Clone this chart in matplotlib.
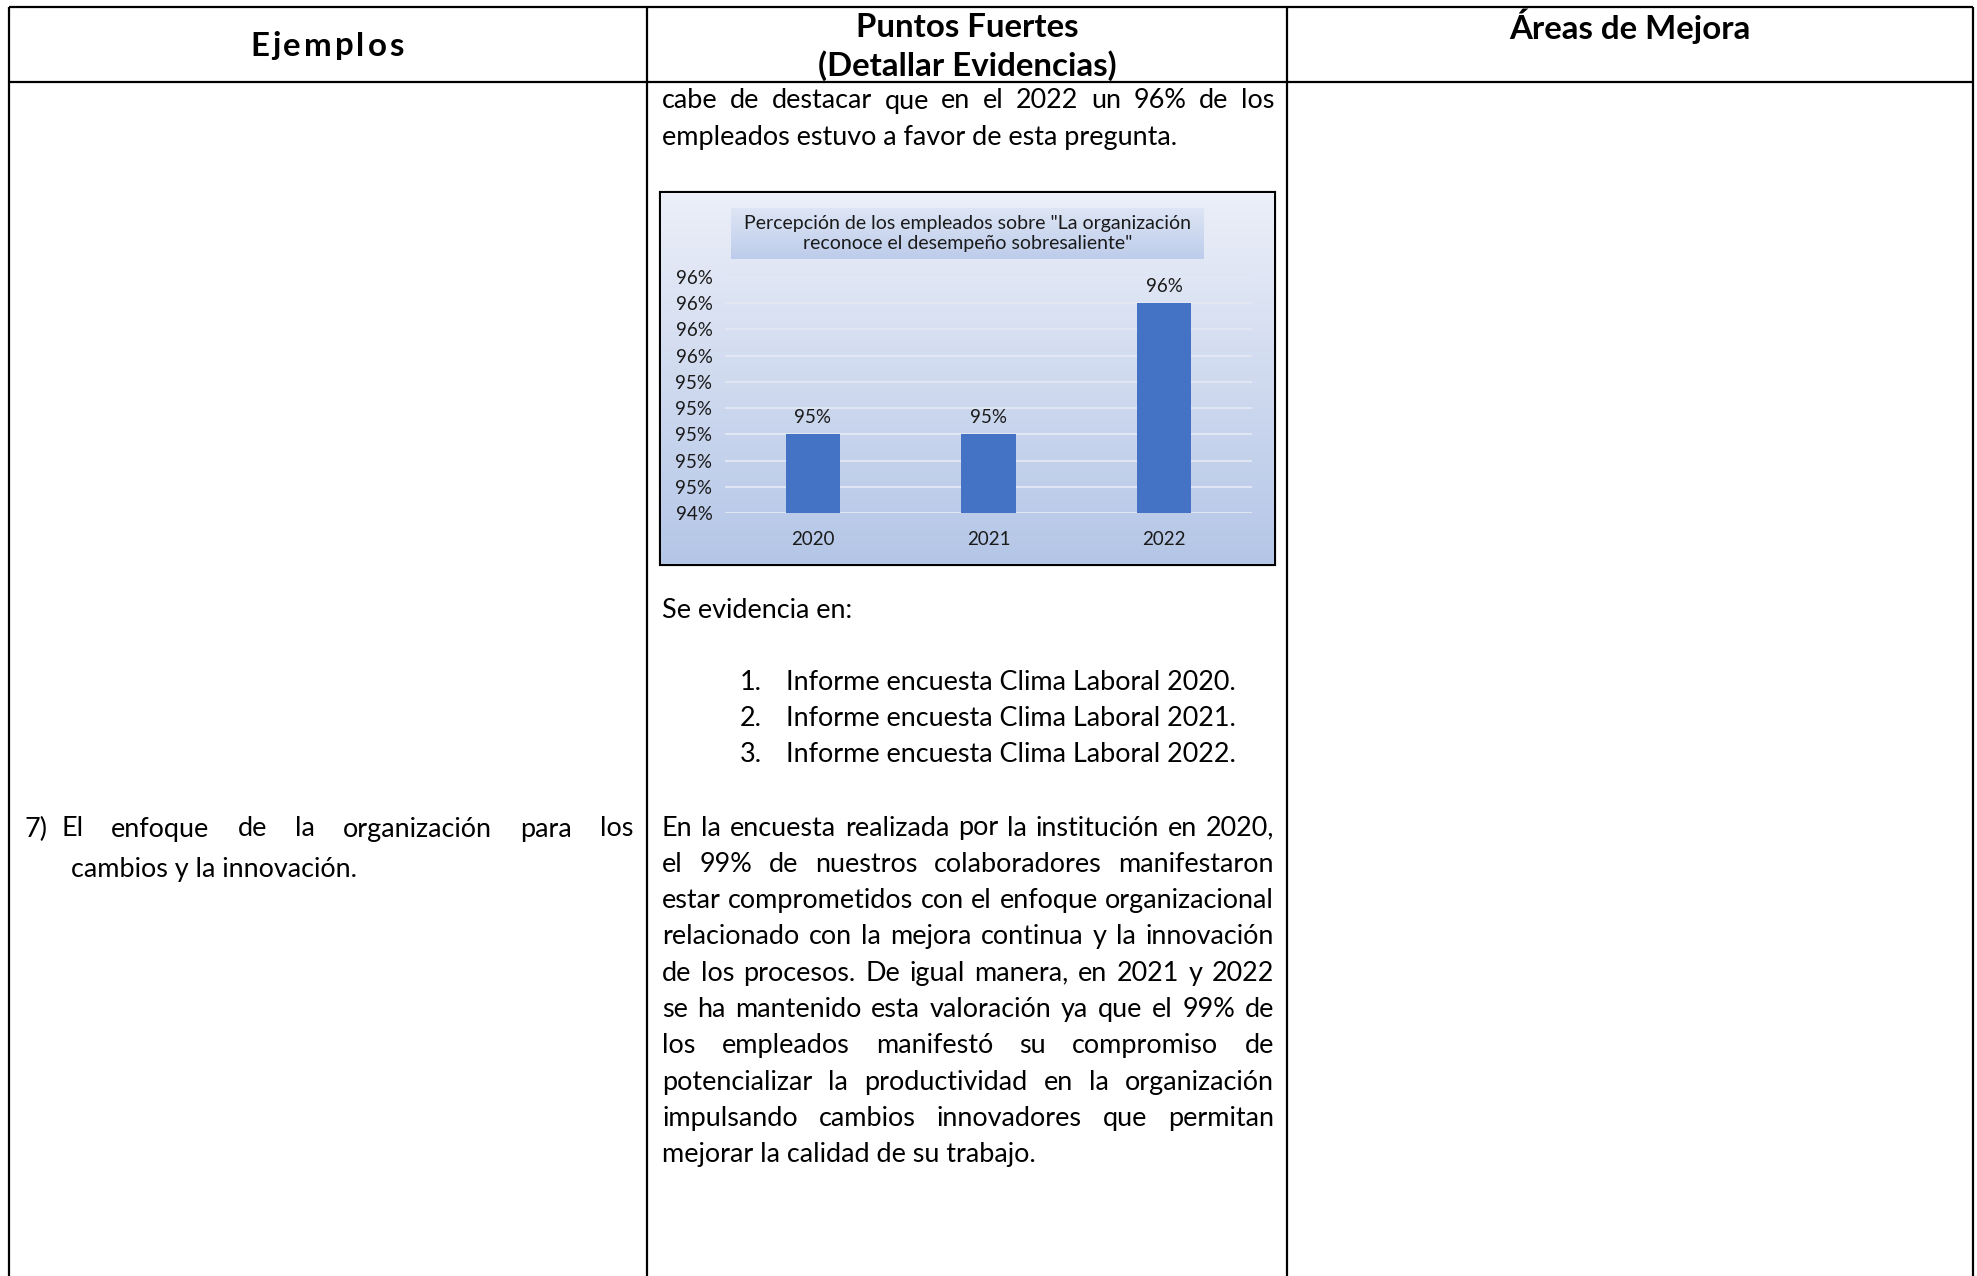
import matplotlib.pyplot as plt
import numpy as np
from matplotlib.patches import Rectangle

plt.rcParams['font.family'] = ['Lato', 'DejaVu Sans']

# chart data
years = ['2020', '2021', '2022']
percepcion = [95.0, 95.0, 96.0]
bar_labels = ['95%', '95%', '96%']
y_ticks = [94.4, 94.6, 94.8, 95.0, 95.2, 95.4, 95.6, 95.8, 96.0, 96.2]
y_tick_labels = ['94%', '95%', '95%', '95%', '95%', '95%', '96%', '96%', '96%', '96%']
chart_title = 'Percepción de los empleados sobre "La organización\nreconoce el desempeño sobresaliente"'

# table text
headers = ['Ejemplos', 'Puntos Fuertes\n(Detallar Evidencias)', 'Áreas de Mejora']
intro_lines = ['cabe de destacar que en el 2022 un 96% de los',
               'empleados estuvo a favor de esta pregunta.']
evidencias = ['Informe encuesta Clima Laboral 2020.',
              'Informe encuesta Clima Laboral 2021.',
              'Informe encuesta Clima Laboral 2022.']
parrafo = ['En la encuesta realizada por la institución en 2020,',
           'el 99% de nuestros colaboradores manifestaron',
           'estar comprometidos con el enfoque organizacional',
           'relacionado con la mejora continua y la innovación',
           'de los procesos. De igual manera, en 2021 y 2022',
           'se ha mantenido esta valoración ya que el 99% de',
           'los empleados manifestó su compromiso de',
           'potencializar la productividad en la organización',
           'impulsando cambios innovadores que permitan',
           'mejorar la calidad de su trabajo.']
ejemplo_num = '7)'
ejemplo = ['El enfoque de la organización para los',
           'cambios y la innovación.']

W, H = 1977, 1276
fig = plt.figure(figsize=(W / 100, H / 100), dpi=100)
page = fig.add_axes([0, 0, 1, 1])
page.set_xlim(0, W)
page.set_ylim(H, 0)
page.axis('off')
fig.canvas.draw()
renderer = fig.canvas.get_renderer()


def px_rect(x0, y0, x1, y1):
    return [x0 / W, 1 - y1 / H, (x1 - x0) / W, (y1 - y0) / H]


def text_width(s, fs, weight='normal'):
    t = page.text(0, 0, s, fontsize=fs, weight=weight)
    w = t.get_window_extent(renderer).width
    t.remove()
    return w


def justify(line, x0, x1, y, fs):
    words = line.split()
    widths = [text_width(w, fs) for w in words]
    gap = (x1 - x0 - sum(widths)) / (len(words) - 1)
    x = x0
    for w, wd in zip(words, widths):
        page.text(x, y, w, fontsize=fs, ha='left', va='center', color='black')
        x += wd + gap


def spaced(s, xc, y, fs, track, weight='bold'):
    # letter-spaced centred text
    widths = [text_width(c, fs, weight) for c in s]
    total = sum(widths) + track * (len(s) - 1)
    x = xc - total / 2
    for c, wd in zip(s, widths):
        page.text(x, y, c, fontsize=fs, weight=weight, ha='left', va='center')
        x += wd + track


# font sizes fitted to the page
fs_body = 20 * 516 / text_width(intro_lines[1], 20)
fs_head = 20 * 223 / text_width('Puntos Fuertes', 20, 'bold')

# table grid
lw = 1.6
for x in [9, 647, 1287, 1973]:
    page.plot([x, x], [7, H], color='black', lw=lw, solid_capstyle='butt')
for y in [7, 81.5]:
    page.plot([9, 1973], [y, y], color='black', lw=lw, solid_capstyle='butt')

# headers
spaced(headers[0], 327, 46, fs_head, 3.0)
page.text(967, 47, headers[1], fontsize=fs_head, weight='bold', ha='center', va='center',
          linespacing=1.3)
page.text(1630, 26, headers[2], fontsize=fs_head, weight='bold', ha='center', va='center')

# middle column text
x_l, x_r = 662, 1274
justify(intro_lines[0], x_l, x_r, 101, fs_body)
page.text(x_l, 138, intro_lines[1], fontsize=fs_body, va='center')
page.text(x_l, 610, 'Se evidencia en:', fontsize=fs_body, va='center')
for i, item in enumerate(evidencias):
    y = 682 + i * 36.5
    page.text(740, y, f'{i + 1}.', fontsize=fs_body, va='center')
    page.text(786, y, item, fontsize=fs_body, va='center')
for i, line in enumerate(parrafo):
    y = 828 + i * 36.3
    if i < len(parrafo) - 1:
        justify(line, x_l, x_r, y, fs_body)
    else:
        page.text(x_l, y, line, fontsize=fs_body, va='center')

# left column text
page.text(25, 829, ejemplo_num, fontsize=fs_body, va='center')
justify(ejemplo[0], 61, 633, 829, fs_body)
page.text(71, 870, ejemplo[1], fontsize=fs_body, va='center')

# embedded chart: gradient background
bg = fig.add_axes(px_rect(661, 193, 1274, 564))
top = np.array([0.925, 0.937, 0.972])
bottom = np.array([0.706, 0.776, 0.906])
t = np.linspace(0, 1, 256)[:, None]
grad = (top * (1 - t) + bottom * t)[:, None, :] * np.ones((1, 2, 1))
bg.imshow(grad, extent=[0, 1, 0, 1], aspect='auto')
bg.axis('off')

# title band
tb = fig.add_axes(px_rect(731, 208, 1204, 259))
t2 = np.linspace(0, 1, 64)[:, None]
band = (np.array([0.87, 0.90, 0.96]) * (1 - t2) + np.array([0.74, 0.80, 0.92]) * t2)[:, None, :] * np.ones((1, 2, 1))
tb.imshow(band, extent=[0, 1, 0, 1], aspect='auto')
tb.axis('off')
tb.text(0.5, 0.5, chart_title, fontsize=14, ha='center', va='center', linespacing=1.2,
        color='#1a1a1a', transform=tb.transAxes)

ax = fig.add_axes(px_rect(725, 277, 1252, 513))
ax.patch.set_alpha(0)
ax.bar(range(len(years)), percepcion, width=0.31, color='#4472C4', zorder=3)
for i, (v, lab) in enumerate(zip(percepcion, bar_labels)):
    ax.annotate(lab, (i, v), xytext=(0, 6), textcoords='offset points',
                ha='center', va='bottom', fontsize=13.5, color='#1a1a1a')
ax.set_xlim(-0.5, 2.5)
ax.set_ylim(94.4, 96.2)
ax.set_xticks(range(len(years)))
ax.set_xticklabels(years, fontsize=13.5, color='#1a1a1a')
ax.set_yticks(y_ticks)
ax.set_yticklabels(y_tick_labels, fontsize=13.5, color='#1a1a1a')
ax.tick_params(length=0)
ax.tick_params(axis='x', pad=13)
ax.tick_params(axis='y', pad=9)
ax.grid(axis='y', color='#e3e8f3', lw=1.3, zorder=0)
for s in ax.spines.values():
    s.set_visible(False)

page.add_patch(Rectangle((661, 193), 613, 371, fill=False, ec='black', lw=3.0, zorder=10))

fig.savefig('out.png', dpi=100)
